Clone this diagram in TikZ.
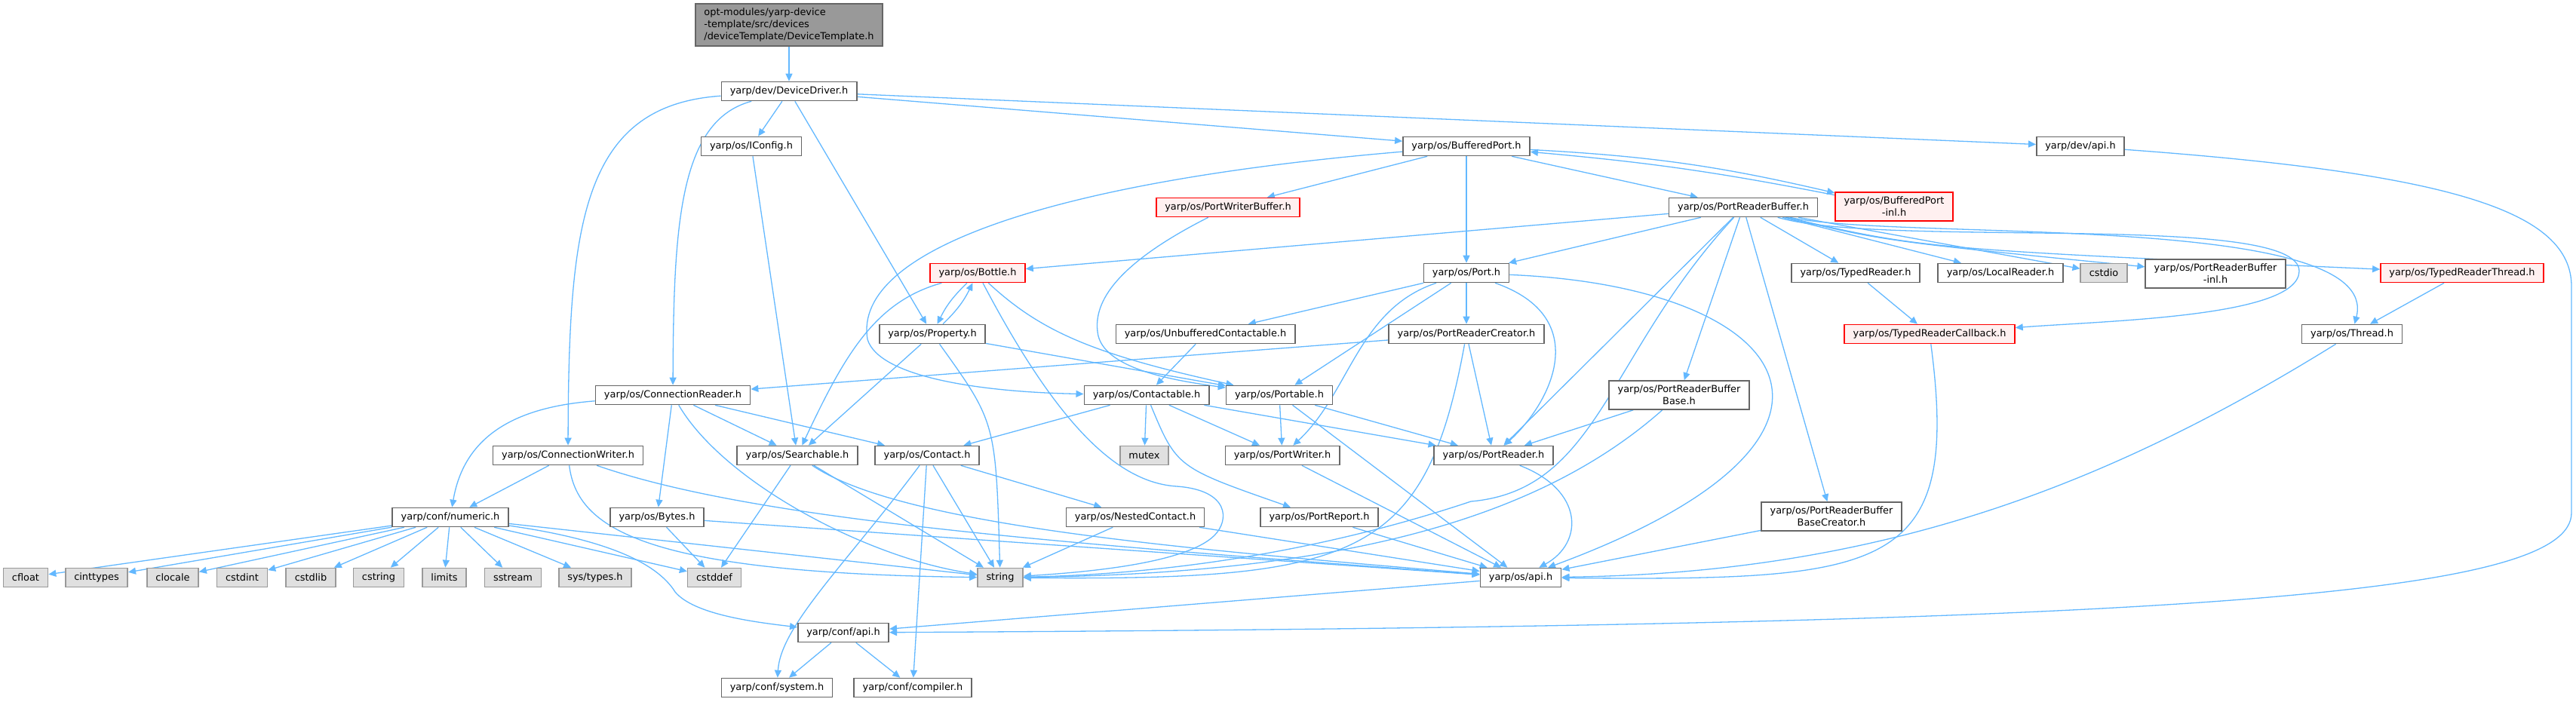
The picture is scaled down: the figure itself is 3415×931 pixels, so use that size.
\documentclass[tikz,border=0pt]{standalone}
\usepackage{fontspec}
\setmainfont{DejaVu Sans}
\usetikzlibrary{arrows.meta}
\definecolor{edge-blue}{HTML}{63B8FF}
\definecolor{node-border}{HTML}{666666}
\definecolor{ext-fill}{HTML}{E0E0E0}
\definecolor{ext-border}{HTML}{999999}
\definecolor{trunc-red}{HTML}{FF0000}
\definecolor{trunc-bg}{HTML}{FFF0F0}
\definecolor{root-fill}{HTML}{999999}
\pgfdeclarelayer{edges}
\pgfsetlayers{edges,main}

\begin{document}
\begin{tikzpicture}[x=1pt, y=-1pt,
    every node/.style={font=\fontsize{12.9}{16}\selectfont, inner xsep=11.5pt,
      inner ysep=6pt, minimum height=25pt, line width=1.6pt},
    hdr/.style={draw=node-border, fill=white, align=center},
    hdrred/.style={draw=trunc-red, fill=trunc-bg, align=center},
    ext/.style={draw=ext-border, fill=ext-fill},
    rootbox/.style={draw=node-border, fill=root-fill, align=left},
    dep/.style={draw=edge-blue, line width=1.3pt, -{Triangle[length=10pt,width=9pt]}}]
    \useasboundingbox (0,0) rectangle (3415,931);

    \node[rootbox] (root) at (1046,33)
          {opt-modules/yarp-device\\-template/src/devices\\/deviceTemplate/DeviceTemplate.h};
    \node[hdr] (drv) at (1046,121) {yarp/dev/DeviceDriver.h};
    \node[hdr] (icfg) at (996,194) {yarp/os/IConfig.h};
    \node[hdr] (bport) at (1944,194) {yarp/os/BufferedPort.h};
    \node[hdr] (devapi) at (2758,194) {yarp/dev/api.h};
    \node[hdrred] (pwbuf) at (1628,275) {yarp/os/PortWriterBuffer.h};
    \node[hdr] (prbuf) at (2311,275) {yarp/os/PortReaderBuffer.h};
    \node[hdrred] (bpinl) at (2511,274) {yarp/os/BufferedPort\\-inl.h};
    \node[hdrred] (bottle) at (1296,362) {yarp/os/Bottle.h};
    \node[hdr] (port) at (1944,362) {yarp/os/Port.h};
    \node[hdr] (treader) at (2460,362) {yarp/os/TypedReader.h};
    \node[hdr] (lreader) at (2652,362) {yarp/os/LocalReader.h};
    \node[ext] (cstdio) at (2789,362) {cstdio};
    \node[hdr] (prbinl) at (2937,363) {yarp/os/PortReaderBuffer\\-inl.h};
    \node[hdrred] (trthread) at (3264,362) {yarp/os/TypedReaderThread.h};
    \node[hdr] (prop) at (1236,443) {yarp/os/Property.h};
    \node[hdr] (ucont) at (1598,443) {yarp/os/UnbufferedContactable.h};
    \node[hdr] (prcreator) at (1944,443) {yarp/os/PortReaderCreator.h};
    \node[hdrred] (trcb) at (2558,443) {yarp/os/TypedReaderCallback.h};
    \node[hdr] (thread) at (3118,443) {yarp/os/Thread.h};
    \node[hdr] (creader) at (892,524) {yarp/os/ConnectionReader.h};
    \node[hdr] (contactable) at (1520,524) {yarp/os/Contactable.h};
    \node[hdr] (portable) at (1696,524) {yarp/os/Portable.h};
    \node[hdr] (prbbase) at (2226,524) {yarp/os/PortReaderBuffer\\Base.h};
    \node[hdr] (cwriter) at (753,604) {yarp/os/ConnectionWriter.h};
    \node[hdr] (searchable) at (1057,604) {yarp/os/Searchable.h};
    \node[hdr] (contact) at (1229,604) {yarp/os/Contact.h};
    \node[ext] (mutex) at (1517,604) {mutex};
    \node[hdr] (pwriter) at (1700,604) {yarp/os/PortWriter.h};
    \node[hdr] (preader) at (1980,604) {yarp/os/PortReader.h};
    \node[hdr] (numeric) at (597,686) {yarp/conf/numeric.h};
    \node[hdr] (bytes) at (871,686) {yarp/os/Bytes.h};
    \node[hdr] (ncontact) at (1505,686) {yarp/os/NestedContact.h};
    \node[hdr] (preport) at (1749,686) {yarp/os/PortReport.h};
    \node[hdr] (prbbcreator) at (2428,685) {yarp/os/PortReaderBuffer\\BaseCreator.h};
    \node[ext] (cfloat) at (34,766) {cfloat};
    \node[ext] (cinttypes) at (128,766) {cinttypes};
    \node[ext] (clocale) at (229,766) {clocale};
    \node[ext] (cstdint) at (321,766) {cstdint};
    \node[ext] (cstdlib) at (412,766) {cstdlib};
    \node[ext] (cstring) at (502,766) {cstring};
    \node[ext] (limits) at (589,766) {limits};
    \node[ext] (sstream) at (680,766) {sstream};
    \node[ext] (systypes) at (789,766) {sys/types.h};
    \node[ext] (cstddef) at (947,766) {cstddef};
    \node[ext] (string) at (1326,766) {string};
    \node[hdr] (osapi) at (2016,766) {yarp/os/api.h};
    \node[hdr] (confapi) at (1118,839) {yarp/conf/api.h};
    \node[hdr] (system) at (1030,912) {yarp/conf/system.h};
    \node[hdr] (compiler) at (1210,912) {yarp/conf/compiler.h};

    \begin{pgfonlayer}{edges}
    \draw[dep] (root) -- (drv);
    \draw[dep] (drv) .. controls (770,140) and (754,300) .. (cwriter);
    \draw[dep] (drv) .. controls (900,160) and (893,300) .. (creader);
    \draw[dep] (drv) -- (icfg);
    \draw[dep] (drv) -- (prop);
    \draw[dep] (drv) -- (bport);
    \draw[dep] (drv) -- (devapi);
    \draw[dep] (icfg) -- (searchable);
    \draw[dep] (bport) .. controls (1400,240) and (1130,330) .. (1150,450)
      .. controls (1165,500) and (1300,520) .. (contactable);
    \draw[dep] (bport) -- (pwbuf);
    \draw[dep] (bport) -- (port);
    \draw[dep] (bport) -- (prbuf);
    \draw[dep] (bport) to[bend left=5] (bpinl);
    \draw[dep] (bpinl) to[bend right=3] (bport);
    \draw[dep] (devapi) .. controls (3250,230) and (3409,280) .. (3409,380) -- (3409,680)
      .. controls (3409,790) and (2900,830) .. (confapi);
    \draw[dep] (pwbuf) .. controls (1480,350) and (1450,400) .. (1455,440)
      .. controls (1460,490) and (1560,505) .. (portable);
    \draw[dep] (prbuf) -- (bottle);
    \draw[dep] (prbuf) -- (port);
    \draw[dep] (prbuf) -- (preader);
    \draw[dep] (prbuf) .. controls (2130,470) and (2120,650) .. (1950,665)
      .. controls (1800,715) and (1600,760) .. (string);
    \draw[dep] (prbuf) -- (prbbase);
    \draw[dep] (prbuf) -- (prbbcreator);
    \draw[dep] (prbuf) -- (treader);
    \draw[dep] (prbuf) -- (lreader);
    \draw[dep] (prbuf) -- (cstdio);
    \draw[dep] (prbuf) .. controls (2500,320) .. (prbinl);
    \draw[dep] (prbuf) .. controls (2550,330) .. (trthread);
    \draw[dep] (prbuf) .. controls (2500,330) and (3050,280) .. (3048,360)
      .. controls (3046,420) and (2800,425) .. (trcb);
    \draw[dep] (prbuf) .. controls (2520,320) and (3160,280) .. (thread);
    \draw[dep] (bottle) to[bend right=10] (prop);
    \draw[dep] (prop) to[bend right=10] (bottle);
    \draw[dep] (bottle) .. controls (1160,400) and (1120,470) .. (searchable);
    \draw[dep] (bottle) .. controls (1400,560) and (1480,640) .. (1560,645)
      .. controls (1630,650) and (1630,690) .. (1610,710)
      .. controls (1570,750) and (1420,760) .. (string);
    \draw[dep] (bottle) .. controls (1380,440) and (1450,470) .. (portable);
    \draw[dep] (prop) .. controls (1320,560) .. (string);
    \draw[dep] (prop) -- (searchable);
    \draw[dep] (prop) -- (portable);
    \draw[dep] (port) -- (ucont);
    \draw[dep] (port) -- (prcreator);
    \draw[dep] (port) -- (portable);
    \draw[dep] (port) .. controls (1800,410) and (1790,520) .. (pwriter);
    \draw[dep] (port) .. controls (2110,420) and (2060,530) .. (preader);
    \draw[dep] (port) .. controls (2380,380) and (2520,580) .. (osapi);
    \draw[dep] (ucont) -- (contactable);
    \draw[dep] (prcreator) -- (creader);
    \draw[dep] (prcreator) -- (preader);
    \draw[dep] (prcreator) .. controls (1890,740) and (1800,770) .. (string);
    \draw[dep] (treader) -- (trcb);
    \draw[dep] (trthread) -- (thread);
    \draw[dep] (trcb) .. controls (2600,760) and (2500,770) .. (osapi);
    \draw[dep] (thread) .. controls (2800,640) and (2500,760) .. (osapi);
    \draw[dep] (creader) .. controls (680,540) and (615,580) .. (numeric);
    \draw[dep] (creader) -- (searchable);
    \draw[dep] (creader) -- (contact);
    \draw[dep] (creader) -- (bytes);
    \draw[dep] (creader) .. controls (960,640) and (1150,740) .. (string);
    \draw[dep] (cwriter) -- (numeric);
    \draw[dep] (cwriter) .. controls (765,700) and (850,760) .. (string);
    \draw[dep] (cwriter) .. controls (1000,690) and (1400,720) .. (osapi);
    \draw[dep] (searchable) -- (cstddef);
    \draw[dep] (searchable) -- (string);
    \draw[dep] (searchable) .. controls (1200,700) and (1600,730) .. (osapi);
    \draw[dep] (contactable) -- (contact);
    \draw[dep] (contactable) -- (mutex);
    \draw[dep] (contactable) -- (pwriter);
    \draw[dep] (contactable) -- (preader);
    \draw[dep] (contactable) .. controls (1560,620) .. (preport);
    \draw[dep] (portable) -- (pwriter);
    \draw[dep] (portable) -- (preader);
    \draw[dep] (portable) -- (osapi);
    \draw[dep] (prbbase) -- (preader);
    \draw[dep] (prbbase) .. controls (2050,680) and (1800,760) .. (string);
    \draw[dep] (prbbcreator) -- (osapi);
    \draw[dep] (contact) .. controls (1120,750) and (1035,830) .. (system);
    \draw[dep] (contact) -- (compiler);
    \draw[dep] (contact) -- (string);
    \draw[dep] (contact) -- (ncontact);
    \draw[dep] (pwriter) -- (osapi);
    \draw[dep] (preader) .. controls (2100,650) and (2100,720) .. (osapi);
    \draw[dep] (numeric) -- (cfloat);
    \draw[dep] (numeric) -- (cinttypes);
    \draw[dep] (numeric) -- (clocale);
    \draw[dep] (numeric) -- (cstdint);
    \draw[dep] (numeric) -- (cstdlib);
    \draw[dep] (numeric) -- (cstring);
    \draw[dep] (numeric) -- (limits);
    \draw[dep] (numeric) -- (sstream);
    \draw[dep] (numeric) -- (systypes);
    \draw[dep] (numeric) -- (cstddef);
    \draw[dep] (numeric) -- (string);
    \draw[dep] (numeric) .. controls (800,715) and (870,745) .. (895,785)
      .. controls (920,815) and (1000,825) .. (confapi);
    \draw[dep] (bytes) -- (cstddef);
    \draw[dep] (bytes) -- (osapi);
    \draw[dep] (ncontact) -- (string);
    \draw[dep] (ncontact) -- (osapi);
    \draw[dep] (preport) -- (osapi);
    \draw[dep] (osapi) -- (confapi);
    \draw[dep] (confapi) -- (system);
    \draw[dep] (confapi) -- (compiler);
    \end{pgfonlayer}
  \end{tikzpicture}
\end{document}
